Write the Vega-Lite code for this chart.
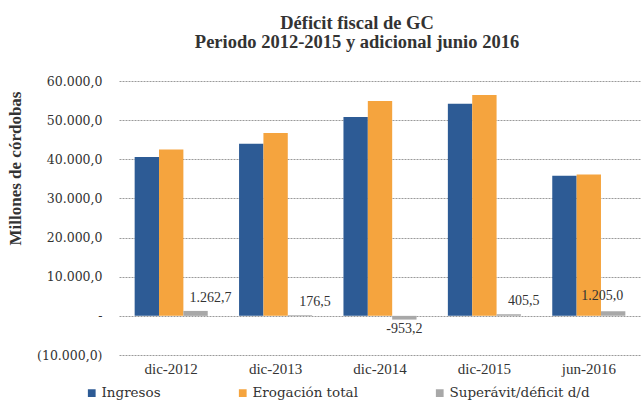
{
  "$schema": "https://vega.github.io/schema/vega-lite/v6.json",
  "autosize": "none",
  "width": 522,
  "height": 274,
  "padding": {"left": 119, "top": 81, "right": 0, "bottom": 53},
  "background": "white",
  "config": {
    "locale": {"number": {"decimal": ",", "thousands": ".", "grouping": [3], "currency": ["", ""], "minus": "-"}},
    "font": "Liberation Serif",
    "view": {"stroke": null}
  },
  "title": {
    "text": ["Déficit fiscal de GC", "Periodo 2012-2015 y adicional junio 2016"],
    "font": "Liberation Serif",
    "fontSize": 18.5,
    "fontWeight": "bold",
    "color": "#333333",
    "lineHeight": 19,
    "anchor": "middle",
    "dx": -23,
    "offset": 24
  },
  "data": {
    "values": [
      {"periodo": "dic-2012", "serie": "Ingresos", "valor": 40600},
      {"periodo": "dic-2012", "serie": "Erogación total", "valor": 42500},
      {"periodo": "dic-2012", "serie": "Superávit/déficit d/d", "valor": 1262.7},
      {"periodo": "dic-2013", "serie": "Ingresos", "valor": 44000},
      {"periodo": "dic-2013", "serie": "Erogación total", "valor": 46700},
      {"periodo": "dic-2013", "serie": "Superávit/déficit d/d", "valor": 176.5},
      {"periodo": "dic-2014", "serie": "Ingresos", "valor": 50800},
      {"periodo": "dic-2014", "serie": "Erogación total", "valor": 54900},
      {"periodo": "dic-2014", "serie": "Superávit/déficit d/d", "valor": -953.2},
      {"periodo": "dic-2015", "serie": "Ingresos", "valor": 54200},
      {"periodo": "dic-2015", "serie": "Erogación total", "valor": 56400},
      {"periodo": "dic-2015", "serie": "Superávit/déficit d/d", "valor": 405.5},
      {"periodo": "jun-2016", "serie": "Ingresos", "valor": 35800},
      {"periodo": "jun-2016", "serie": "Erogación total", "valor": 36100},
      {"periodo": "jun-2016", "serie": "Superávit/déficit d/d", "valor": 1205.0}
    ]
  },
  "encoding": {
    "x": {
      "field": "periodo",
      "type": "nominal",
      "sort": null,
      "scale": {"paddingInner": 0.3, "paddingOuter": 0.15},
      "axis": {
        "title": null,
        "domain": false,
        "ticks": false,
        "labelAngle": 0,
        "labelFont": "Liberation Serif",
        "labelFontSize": 15,
        "labelColor": "#333333",
        "labelPadding": 6
      }
    },
    "xOffset": {
      "field": "serie",
      "type": "nominal",
      "sort": ["Ingresos", "Erogación total", "Superávit/déficit d/d"],
      "scale": {"paddingInner": 0, "paddingOuter": 0}
    },
    "y": {
      "field": "valor",
      "type": "quantitative",
      "scale": {"domain": [-10000, 60000], "nice": false},
      "axis": {
        "title": "Millones de córdobas",
        "titleFont": "Liberation Serif",
        "titleFontSize": 17,
        "titleFontWeight": "bold",
        "titleColor": "#333333",
        "titleAngle": -90,
        "titleX": -104,
        "titleY": 87,
        "titleAlign": "center",
        "titleBaseline": "middle",
        "values": [-10000, 0, 10000, 20000, 30000, 40000, 50000, 60000],
        "format": "(,.1f",
        "labelExpr": "datum.value == 0 ? '-' : datum.label",
        "labelFont": "DejaVu Serif",
        "labelFontSize": 12.5,
        "labelColor": "#333333",
        "labelPadding": 17,
        "domain": false,
        "ticks": false,
        "grid": true,
        "gridColor": "#9a9a9a",
        "gridDash": [2, 1],
        "gridWidth": 1
      }
    }
  },
  "layer": [
    {
      "mark": {"type": "bar"},
      "encoding": {
        "color": {
          "field": "serie",
          "type": "nominal",
          "sort": ["Ingresos", "Erogación total", "Superávit/déficit d/d"],
          "scale": {
            "domain": ["Ingresos", "Erogación total", "Superávit/déficit d/d"],
            "range": ["#2D5B95", "#F5A43E", "#A8A8A8"]
          },
          "legend": {
            "title": null,
            "orient": "none",
            "direction": "horizontal",
            "legendX": -34,
            "legendY": 305,
            "symbolType": "square",
            "symbolSize": 60,
            "symbolStrokeWidth": 0,
            "labelFont": "DejaVu Serif",
            "labelFontSize": 13.5,
            "labelColor": "#333333",
            "columnPadding": 75,
            "labelOffset": 3
          }
        }
      }
    },
    {
      "transform": [{"filter": "datum.serie == 'Superávit/déficit d/d' && datum.valor >= 0 && datum.periodo != 'jun-2016'"}],
      "mark": {"type": "text", "baseline": "bottom", "dy": -6, "dx": 15, "fontSize": 14, "font": "Liberation Serif", "color": "#333333"},
      "encoding": {
        "text": {"field": "valor", "type": "quantitative", "format": ",.1f"}
      }
    },
    {
      "transform": [{"filter": "datum.serie == 'Superávit/déficit d/d' && datum.periodo == 'jun-2016'"}],
      "mark": {"type": "text", "baseline": "bottom", "dy": -8, "dx": -11, "fontSize": 14, "font": "Liberation Serif", "color": "#333333"},
      "encoding": {
        "text": {"field": "valor", "type": "quantitative", "format": ",.1f"}
      }
    },
    {
      "transform": [{"filter": "datum.serie == 'Superávit/déficit d/d' && datum.valor < 0"}],
      "mark": {"type": "text", "baseline": "top", "dy": 2, "fontSize": 14, "font": "Liberation Serif", "color": "#333333"},
      "encoding": {
        "text": {"field": "valor", "type": "quantitative", "format": ",.1f"}
      }
    }
  ]
}
